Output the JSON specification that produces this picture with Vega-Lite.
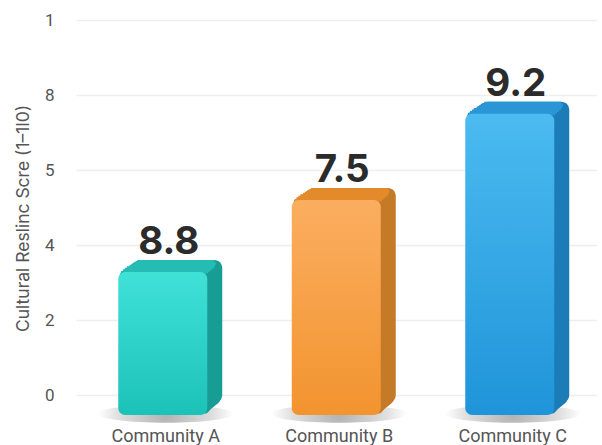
{"$schema":"https://vega.github.io/schema/vega-lite/v6.json","width":526,"height":395,"autosize":"none","padding":{"left":76,"top":20,"right":0,"bottom":30},"background":"white","config":{"view":{"stroke":null}},"data":{"values":[{"community":"Community A","height":3.28,"label":"8.8"},{"community":"Community B","height":5.2,"label":"7.5"},{"community":"Community C","height":7.5,"label":"9.2"}]},"encoding":{"x":{"field":"community","type":"nominal","sort":null,"scale":{"range":[0,520.5],"paddingInner":0,"paddingOuter":0},"axis":{"title":null,"domain":false,"ticks":false,"grid":false,"labelAngle":0,"labelFont":"Roboto","labelFontSize":18,"labelColor":"#555555","labelPadding":12,"labelOffset":3}},"y":{"field":"height","type":"quantitative","scale":{"domain":[-0.533,10],"nice":false,"zero":false},"axis":{"values":[0,2,4,6,8,10],"labelExpr":"datum.value==6?'5':datum.value==10?'1':datum.label","title":"Cultural Reslinc Scre (1–1l0)","titleFont":"Inter","titleFontSize":17.5,"titleFontWeight":"normal","titleColor":"#555555","titleX":-44,"titleY":198,"domain":false,"ticks":false,"grid":true,"gridColor":"#eeeeee","gridWidth":1.5,"labelFont":"Roboto","labelFontSize":17,"labelColor":"#555555","labelPadding":22}}},"layer":[
{"mark":{"type":"point","filled":true,"opacity":1,"size":4,"shape":"M-68,0a68,9 0 1,0 136,0a68,9 0 1,0 -136,0z","xOffset":3,"color":{"gradient":"radial","x1":0.5,"y1":0.5,"r1":0,"x2":0.5,"y2":0.5,"r2":0.5,"stops":[{"offset":0,"color":"rgba(0,0,0,0.3)"},{"offset":0.7,"color":"rgba(0,0,0,0.12)"},{"offset":1,"color":"rgba(0,0,0,0)"}]}},"encoding":{"y":{"datum":-0.5}}},
{"layer":[
{"mark":{"type":"bar","size":89,"cornerRadius":4,"xOffset":1.9,"yOffset":-1.5,"y2Offset":-1.5}},
{"mark":{"type":"bar","size":89,"cornerRadius":5,"xOffset":3.75,"yOffset":-3,"y2Offset":-3}},
{"mark":{"type":"bar","size":89,"cornerRadius":6,"xOffset":5.6,"yOffset":-4.5,"y2Offset":-4.5}},
{"mark":{"type":"bar","size":89,"cornerRadius":6,"xOffset":7.5,"yOffset":-6,"y2Offset":-6}},
{"mark":{"type":"bar","size":89,"cornerRadius":6,"xOffset":9.4,"yOffset":-7.5,"y2Offset":-7.5}},
{"mark":{"type":"bar","size":89,"cornerRadius":6,"xOffset":11.25,"yOffset":-9,"y2Offset":-9}},
{"mark":{"type":"bar","size":89,"cornerRadius":6,"xOffset":13.1,"yOffset":-10.5,"y2Offset":-10.5}},
{"mark":{"type":"bar","size":89,"cornerRadius":8,"xOffset":15,"yOffset":-12,"y2Offset":-12}}
],"encoding":{"y2":{"datum":-0.533},"fill":{"field":"community","type":"nominal","legend":null,"scale":{"domain":["Community A","Community B","Community C"],"range":["#189d94","#c57a28","#1b7cb8"]}}}},
{"layer":[
{"mark":{"type":"tick","filled":true,"opacity":1,"size":87,"thickness":2.5,"xOffset":1.9,"yOffset":0.2}},
{"mark":{"type":"tick","filled":true,"opacity":1,"size":87,"thickness":2.5,"xOffset":3.75,"yOffset":-1.5}},
{"mark":{"type":"tick","filled":true,"opacity":1,"size":87,"thickness":2.5,"xOffset":5.6,"yOffset":-3}},
{"mark":{"type":"tick","filled":true,"opacity":1,"size":87,"thickness":2.5,"xOffset":7.5,"yOffset":-4.5}},
{"mark":{"type":"tick","filled":true,"opacity":1,"size":85,"thickness":2.5,"xOffset":9.4,"yOffset":-6}},
{"mark":{"type":"tick","filled":true,"opacity":1,"size":83,"thickness":2.5,"xOffset":11.25,"yOffset":-7.5}},
{"mark":{"type":"tick","filled":true,"opacity":1,"size":81,"thickness":2.5,"xOffset":12.5,"yOffset":-9}},
{"mark":{"type":"tick","filled":true,"opacity":1,"size":77,"thickness":2.5,"xOffset":13,"yOffset":-10.7}}
],"encoding":{"color":{"field":"community","type":"nominal","legend":null,"scale":{"domain":["Community A","Community B","Community C"],"range":["#24bdb3","#e38b2b","#2a96d6"]}}}},
{"transform":[{"filter":"datum.community==='Community A'"}],"mark":{"type":"bar","size":89,"cornerRadius":7,"color":{"gradient":"linear","x1":0,"y1":0,"x2":0,"y2":1,"stops":[{"offset":0,"color":"#40e2d8"},{"offset":1,"color":"#1cc1b7"}]}},"encoding":{"y2":{"datum":-0.533}}},
{"transform":[{"filter":"datum.community==='Community B'"}],"mark":{"type":"bar","size":89,"cornerRadius":7,"color":{"gradient":"linear","x1":0,"y1":0,"x2":0,"y2":1,"stops":[{"offset":0,"color":"#fbae60"},{"offset":1,"color":"#f2942f"}]}},"encoding":{"y2":{"datum":-0.533}}},
{"transform":[{"filter":"datum.community==='Community C'"}],"mark":{"type":"bar","size":89,"cornerRadius":7,"color":{"gradient":"linear","x1":0,"y1":0,"x2":0,"y2":1,"stops":[{"offset":0,"color":"#4bbbf0"},{"offset":1,"color":"#1f94d9"}]}},"encoding":{"y2":{"datum":-0.533}}},
{"mark":{"type":"text","font":"Inter","fontWeight":"bold","fontSize":38.5,"color":"#2b2b2b","baseline":"alphabetic","align":"center","dx":6,"dy":-18},"encoding":{"text":{"field":"label","type":"nominal"}}}
]}
